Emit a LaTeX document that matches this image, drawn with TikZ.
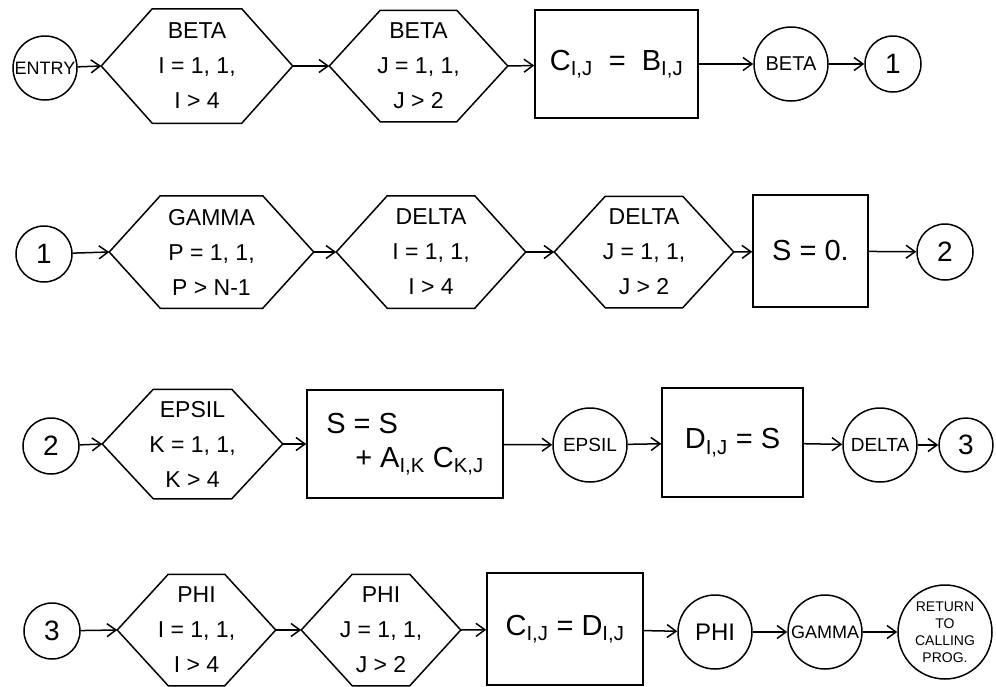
\documentclass[tikz,border=0pt]{standalone}
\usepackage{fontspec}
\setmainfont{Liberation Sans}
\usetikzlibrary{arrows.meta}
\begin{document}
\begin{tikzpicture}[x=1pt,y=-1pt,
  every node/.style={inner sep=0pt, line width=1.5pt},
  hexbox/.style={minimum height=110pt, align=center, font=\fontsize{23}{35}\selectfont},
  hexline/.style={draw, line width=1.5pt, line join=round},
  procbox/.style={draw, rectangle, align=center, font=\fontsize{29}{34}\selectfont},
  conn/.style={draw, circle, font=\fontsize{28}{30}\selectfont, minimum size=56pt},
  namecirc/.style={draw, circle, font=\fontsize{19}{22}\selectfont, minimum size=74pt},
  flow/.style={line width=1.5pt, -{Straight Barb[length=9pt,width=13pt,line width=1.5pt]}}
]
\useasboundingbox (0,0) rectangle (996,686);

% ---------- row 1 ----------
\node[namecirc, minimum size=64pt, font=\fontsize{18}{20}\selectfont] (entry) at (45,68) {ENTRY};
\node[hexbox, minimum width=190pt, minimum height=113pt] (h1) at (197,66) {BETA\\I = 1, 1,\\I > 4};
\node[hexbox, minimum width=177pt] (h2) at (418.5,66) {BETA\\J = 1, 1,\\J > 2};
\node[procbox, minimum width=163pt, minimum height=108pt] (r1) at (616.5,64) {C\textsubscript{I,J} \ = \ B\textsubscript{I,J}};
\node[namecirc, font=\fontsize{20}{22}\selectfont] (beta) at (791,64) {BETA};
\node[conn] (k1a) at (893,64) {1};

% ---------- row 2 ----------
\node[conn] (k1b) at (44,254) {1};
\node[hexbox, minimum width=203pt, minimum height=111pt] (h3) at (211.5,252) {GAMMA\\P = 1, 1,\\P > N-1};
\node[hexbox, minimum width=188pt, minimum height=111pt] (h4) at (431,252) {DELTA\\I = 1, 1,\\I > 4};
\node[hexbox, minimum width=178pt] (h5) at (644,252) {DELTA\\J = 1, 1,\\J > 2};
\node[procbox, minimum width=115pt, minimum height=112pt] (r2) at (810.5,251) {S = 0.};
\node[conn] (k2a) at (945,252) {2};

% ---------- row 3 ----------
\node[conn] (k2b) at (51,446) {2};
\node[hexbox, minimum width=179pt, minimum height=108pt] (h6) at (192.5,444) {EPSIL\\K = 1, 1,\\K > 4};
\node[procbox, minimum width=196pt, minimum height=108pt, align=left] (r3) at (405,444)
  {S = S\\\hspace{1.0em}+ A\textsubscript{I,K} C\textsubscript{K,J}};
\node[namecirc] (epsil) at (590,445) {EPSIL};
\node[procbox, minimum width=141pt, minimum height=109pt] (r4) at (732.5,442.5) {D\textsubscript{I,J} = S};
\node[namecirc] (delta) at (880,445) {DELTA};
\node[conn, minimum size=54pt] (k3a) at (966,445) {3};

% ---------- row 4 ----------
\node[conn] (k3b) at (52,631) {3};
\node[hexbox, minimum width=157pt] (h7) at (196.5,630) {PHI\\I = 1, 1,\\I > 4};
\node[hexbox, minimum width=158pt] (h8) at (381,630) {PHI\\J = 1, 1,\\J > 2};
\node[procbox, minimum width=156pt, minimum height=112pt] (r5) at (565,629) {C\textsubscript{I,J} = D\textsubscript{I,J}};
\node[namecirc, font=\fontsize{24}{26}\selectfont] (phi) at (715,632) {PHI};
\node[namecirc, font=\fontsize{18}{20}\selectfont] (gamma) at (825,632) {GAMMA};
\node[namecirc, minimum size=94pt, align=center, font=\fontsize{14}{17}\selectfont] (ret) at (945,632) {RETURN\\TO\\CALLING\\PROG.};

% ---------- hexagon outlines ----------
\foreach \n in {h1,h2,h3,h4,h5,h6,h7,h8}{
  \draw[hexline] (\n.west) -- ([xshift=51pt]\n.north west) -- ([xshift=-51pt]\n.north east)
    -- (\n.east) -- ([xshift=-51pt]\n.south east) -- ([xshift=51pt]\n.south west) -- cycle;
}

% ---------- connectors ----------
\draw[flow] (entry) -- (h1.west);
\draw[flow] (h1.east) -- (h2.west);
\draw[flow] (h2.east) -- (r1);
\draw[flow] (r1) -- (beta);
\draw[flow] (beta) -- (k1a);

\draw[flow] (k1b) -- (h3.west);
\draw[flow] (h3.east) -- (h4.west);
\draw[flow] (h4.east) -- (h5.west);
\draw[flow] (h5.east) -- (r2);
\draw[flow] (r2) -- (k2a);

\draw[flow] (k2b) -- (h6.west);
\draw[flow] (h6.east) -- (r3);
\draw[flow] (r3) -- (epsil);
\draw[flow] (epsil) -- (r4);
\draw[flow] (r4) -- (delta);
\draw[flow] (delta) -- (k3a);

\draw[flow] (k3b) -- (h7.west);
\draw[flow] (h7.east) -- (h8.west);
\draw[flow] (h8.east) -- (r5);
\draw[flow] (r5) -- (phi);
\draw[flow] (phi) -- (gamma);
\draw[flow] (gamma) -- (ret);
\end{tikzpicture}
\end{document}
